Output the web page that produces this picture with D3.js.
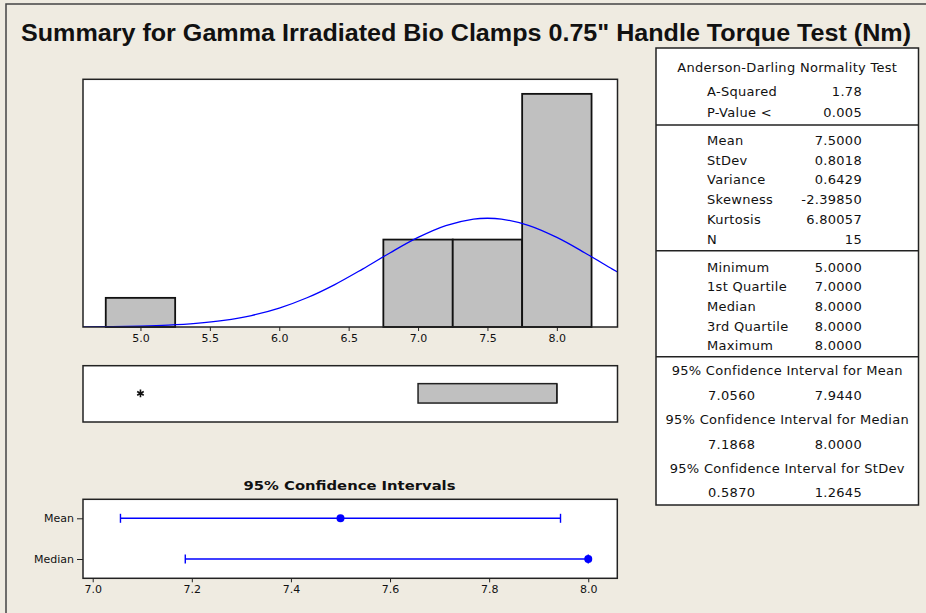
<!DOCTYPE html>
<html>
<head>
<meta charset="utf-8">
<script src="https://cdn.jsdelivr.net/npm/d3@7"></script>
<style>
  body { margin: 0; background: #EFEBE1; }
  text { font-family: "DejaVu Sans", sans-serif; fill: #111; }
</style>
</head>
<body>
<div id="chart"></div>
<script>
var width = 926, height = 613;

// histogram data
var binMids = [5.0, 5.5, 6.0, 6.5, 7.0, 7.5, 8.0];
var binCounts = [1, 0, 0, 0, 3, 3, 8];
var binWidth = 0.5;
var histTicks = [5.0, 5.5, 6.0, 6.5, 7.0, 7.5, 8.0];

// fitted normal curve (count scale)
var fitX = [4.5, 4.6, 4.8, 5.0, 5.2, 5.4, 5.6, 5.8, 6.0, 6.2, 6.4, 6.6, 6.8, 7.0, 7.2, 7.4, 7.5, 7.6, 7.8, 8.0, 8.2, 8.4, 8.5];
var fitY = [0.003, 0.005, 0.013, 0.029, 0.061, 0.121, 0.225, 0.394, 0.649, 1.003, 1.456, 1.988, 2.550, 3.073, 3.480, 3.703, 3.732, 3.703, 3.480, 3.073, 2.550, 1.988, 1.714];

// boxplot
var boxQ1 = 7.0, boxMedian = 8.0, boxQ3 = 8.0;
var boxOutliers = [5.0];

// confidence intervals
var ciNames = ["Mean", "Median"];
var ciLow = [7.0560, 7.1868];
var ciHigh = [7.9440, 8.0000];
var ciCenter = [7.5, 8.0];
var ciTicks = [7.0, 7.2, 7.4, 7.6, 7.8, 8.0];

// stats table
var adLabels = ["A-Squared", "P-Value <"];
var adValues = ["1.78", "0.005"];
var momentLabels = ["Mean", "StDev", "Variance", "Skewness", "Kurtosis", "N"];
var momentValues = ["7.5000", "0.8018", "0.6429", "-2.39850", "6.80057", "15"];
var quartLabels = ["Minimum", "1st Quartile", "Median", "3rd Quartile", "Maximum"];
var quartValues = ["5.0000", "7.0000", "8.0000", "8.0000", "8.0000"];
var ciTitles = ["95% Confidence Interval for Mean", "95% Confidence Interval for Median", "95% Confidence Interval for StDev"];
var ciTableLow = ["7.0560", "7.1868", "0.5870"];
var ciTableHigh = ["7.9440", "8.0000", "1.2645"];

var svg = d3.select("#chart").append("svg")
  .attr("width", width)
  .attr("height", height);

svg.append("rect")
  .attr("x", 0).attr("y", 0)
  .attr("width", width).attr("height", height)
  .attr("fill", "#EFEBE1");

// outer frame (right and bottom edges fall outside the picture)
svg.append("path")
  .attr("d", "M6," + height + "V4H" + width)
  .attr("fill", "none")
  .attr("stroke", "#444")
  .attr("stroke-width", 1.5);

// title
svg.append("text")
  .attr("x", 466).attr("y", 41)
  .attr("text-anchor", "middle")
  .attr("textLength", 890)
  .attr("lengthAdjust", "spacingAndGlyphs")
  .style("font-family", "'Liberation Sans', Arial, sans-serif")
  .style("font-size", "23px")
  .style("font-weight", "bold")
  .text("Summary for Gamma Irradiated Bio Clamps 0.75\" Handle Torque Test (Nm)");

// ---- histogram ----
var hx = d3.scaleLinear().domain([4.586, 8.437]).range([83, 617.5]);
var hy = d3.scaleLinear().domain([0, 8.5]).range([327, 79.3]);

svg.append("rect")
  .attr("x", hx.range()[0]).attr("y", hy.range()[1])
  .attr("width", hx.range()[1] - hx.range()[0])
  .attr("height", hy.range()[0] - hy.range()[1])
  .attr("fill", "#fff");

svg.append("clipPath").attr("id", "histClip")
  .append("rect")
  .attr("x", hx.range()[0]).attr("y", hy.range()[1])
  .attr("width", hx.range()[1] - hx.range()[0])
  .attr("height", hy.range()[0] - hy.range()[1]);

svg.selectAll(".bar")
  .data(binMids)
  .enter()
  .append("rect")
  .attr("class", "bar")
  .attr("x", d => hx(d - binWidth / 2))
  .attr("width", d => hx(d + binWidth / 2) - hx(d - binWidth / 2))
  .attr("y", (d, i) => hy(binCounts[i]))
  .attr("height", (d, i) => hy(0) - hy(binCounts[i]))
  .attr("fill", "#C0C0C0")
  .attr("stroke", "#111")
  .attr("stroke-width", 1.8);

var fitLine = d3.line()
  .x((d, i) => hx(fitX[i]))
  .y(d => hy(d))
  .curve(d3.curveCatmullRom);

svg.append("path")
  .datum(fitY)
  .attr("clip-path", "url(#histClip)")
  .attr("d", fitLine)
  .attr("fill", "none")
  .attr("stroke", "#0000FF")
  .attr("stroke-width", 1.3);

svg.append("rect")
  .attr("x", hx.range()[0]).attr("y", hy.range()[1])
  .attr("width", hx.range()[1] - hx.range()[0])
  .attr("height", hy.range()[0] - hy.range()[1])
  .attr("fill", "none")
  .attr("stroke", "#222")
  .attr("stroke-width", 1.5);

var hAxis = svg.append("g")
  .attr("transform", "translate(0," + hy(0) + ")")
  .call(d3.axisBottom(hx)
    .tickValues(histTicks)
    .tickFormat(d3.format(".1f"))
    .tickSizeInner(4)
    .tickSizeOuter(0)
    .tickPadding(3));
hAxis.select(".domain").remove();
hAxis.selectAll("text").style("font-size", "11px").attr("fill", "#111").style("font-family", "DejaVu Sans, sans-serif");
hAxis.selectAll("line").attr("stroke", "#222");

// ---- boxplot ----
var boxTop = 365.7, boxBottom = 422;
var boxMid = (boxTop + boxBottom) / 2 - 0.5;

svg.append("rect")
  .attr("x", hx.range()[0]).attr("y", boxTop)
  .attr("width", hx.range()[1] - hx.range()[0])
  .attr("height", boxBottom - boxTop)
  .attr("fill", "#fff")
  .attr("stroke", "#222")
  .attr("stroke-width", 1.5);

svg.append("rect")
  .attr("x", hx(boxQ1))
  .attr("y", boxMid - 9.7)
  .attr("width", hx(boxQ3) - hx(boxQ1))
  .attr("height", 19.4)
  .attr("fill", "#C0C0C0")
  .attr("stroke", "#222")
  .attr("stroke-width", 1.5);

svg.append("line")
  .attr("x1", hx(boxMedian)).attr("x2", hx(boxMedian))
  .attr("y1", boxMid - 9.7).attr("y2", boxMid + 9.7)
  .attr("stroke", "#222")
  .attr("stroke-width", 1.5);

svg.selectAll(".outlier")
  .data(boxOutliers)
  .enter()
  .append("path")
  .attr("class", "outlier")
  .attr("transform", d => "translate(" + hx(d) + "," + boxMid + ")")
  .attr("d", d3.symbol().type(d3.symbolAsterisk).size(40))
  .attr("fill", "none")
  .attr("stroke", "#111")
  .attr("stroke-width", 1.6);

// ---- confidence intervals ----
var cx = d3.scaleLinear().domain([6.9804, 8.0586]).range([83, 617.3]);
var cy = d3.scalePoint().domain(ciNames).range([518.3, 559]);
var ciTop = 499.3, ciBottom = 578.3;

svg.append("text")
  .attr("x", 349.5).attr("y", 490)
  .attr("text-anchor", "middle")
  .attr("textLength", 212)
  .attr("lengthAdjust", "spacingAndGlyphs")
  .style("font-size", "12.5px")
  .style("font-weight", "bold")
  .text("95% Confidence Intervals");

svg.append("rect")
  .attr("x", cx.range()[0]).attr("y", ciTop)
  .attr("width", cx.range()[1] - cx.range()[0])
  .attr("height", ciBottom - ciTop)
  .attr("fill", "#fff")
  .attr("stroke", "#222")
  .attr("stroke-width", 1.5);

var cxAxis = svg.append("g")
  .attr("transform", "translate(0," + ciBottom + ")")
  .call(d3.axisBottom(cx)
    .tickValues(ciTicks)
    .tickFormat(d3.format(".1f"))
    .tickSizeInner(4)
    .tickSizeOuter(0)
    .tickPadding(3));
cxAxis.select(".domain").remove();

var cyAxis = svg.append("g")
  .attr("transform", "translate(" + cx.range()[0] + ",0)")
  .call(d3.axisLeft(cy).tickSizeInner(6).tickSizeOuter(0).tickPadding(3));
cyAxis.select(".domain").remove();

[cxAxis, cyAxis].forEach(function(g) {
  g.selectAll("text").style("font-size", "11px").attr("fill", "#111").style("font-family", "DejaVu Sans, sans-serif");
  g.selectAll("line").attr("stroke", "#222");
});

var ci = svg.selectAll(".ci")
  .data(ciNames)
  .enter()
  .append("g")
  .attr("class", "ci");

ci.append("line")
  .attr("x1", (d, i) => cx(ciLow[i]))
  .attr("x2", (d, i) => cx(ciHigh[i]))
  .attr("y1", d => cy(d)).attr("y2", d => cy(d))
  .attr("stroke", "#0000FF")
  .attr("stroke-width", 1.4);

ci.append("line")
  .attr("x1", (d, i) => cx(ciLow[i])).attr("x2", (d, i) => cx(ciLow[i]))
  .attr("y1", d => cy(d) - 4.5).attr("y2", d => cy(d) + 4.5)
  .attr("stroke", "#0000FF")
  .attr("stroke-width", 1.4);

ci.append("line")
  .attr("x1", (d, i) => cx(ciHigh[i])).attr("x2", (d, i) => cx(ciHigh[i]))
  .attr("y1", d => cy(d) - 4.5).attr("y2", d => cy(d) + 4.5)
  .attr("stroke", "#0000FF")
  .attr("stroke-width", 1.4);

ci.append("circle")
  .attr("cx", (d, i) => cx(ciCenter[i]))
  .attr("cy", d => cy(d))
  .attr("r", 4)
  .attr("fill", "#0000FF");

// ---- stats table ----
var tLeft = 656, tRight = 918.5, tTop = 48, tBottom = 505;
var labelX = 707, valueX = 862, midX = (tLeft + tRight) / 2;

svg.append("rect")
  .attr("x", tLeft).attr("y", tTop)
  .attr("width", tRight - tLeft).attr("height", tBottom - tTop)
  .attr("fill", "#fff")
  .attr("stroke", "#222")
  .attr("stroke-width", 1.5);

[125, 250.7, 356.7].forEach(function(yy) {
  svg.append("line")
    .attr("x1", tLeft).attr("x2", tRight)
    .attr("y1", yy).attr("y2", yy)
    .attr("stroke", "#222")
    .attr("stroke-width", 1.5);
});

var table = svg.append("g")
  .style("font-size", "13px")
  .style("letter-spacing", "0.3px");

function tText(x, y, anchor, s) {
  table.append("text")
    .attr("x", x).attr("y", y)
    .attr("dy", "0.35em")
    .attr("text-anchor", anchor)
    .text(s);
}

tText(midX, 67, "middle", "Anderson-Darling Normality Test");

var adY = [91.5, 112];
adLabels.forEach(function(s, i) {
  tText(labelX, adY[i], "start", s);
  tText(valueX, adY[i], "end", adValues[i]);
});

var momentY = [140.5, 160.3, 179.8, 199.5, 219.2, 239];
momentLabels.forEach(function(s, i) {
  tText(labelX, momentY[i], "start", s);
  tText(valueX, momentY[i], "end", momentValues[i]);
});

var quartY = [267, 286.7, 306.3, 326.2, 345.3];
quartLabels.forEach(function(s, i) {
  tText(labelX, quartY[i], "start", s);
  tText(valueX, quartY[i], "end", quartValues[i]);
});

var ciTitleY = [370, 419.3, 468.3];
var ciValY = [395, 444, 492.5];
ciTitles.forEach(function(s, i) {
  tText(midX, ciTitleY[i], "middle", s);
  tText(labelX + 1, ciValY[i], "start", ciTableLow[i]);
  tText(valueX, ciValY[i], "end", ciTableHigh[i]);
});
</script>
</body>
</html>
